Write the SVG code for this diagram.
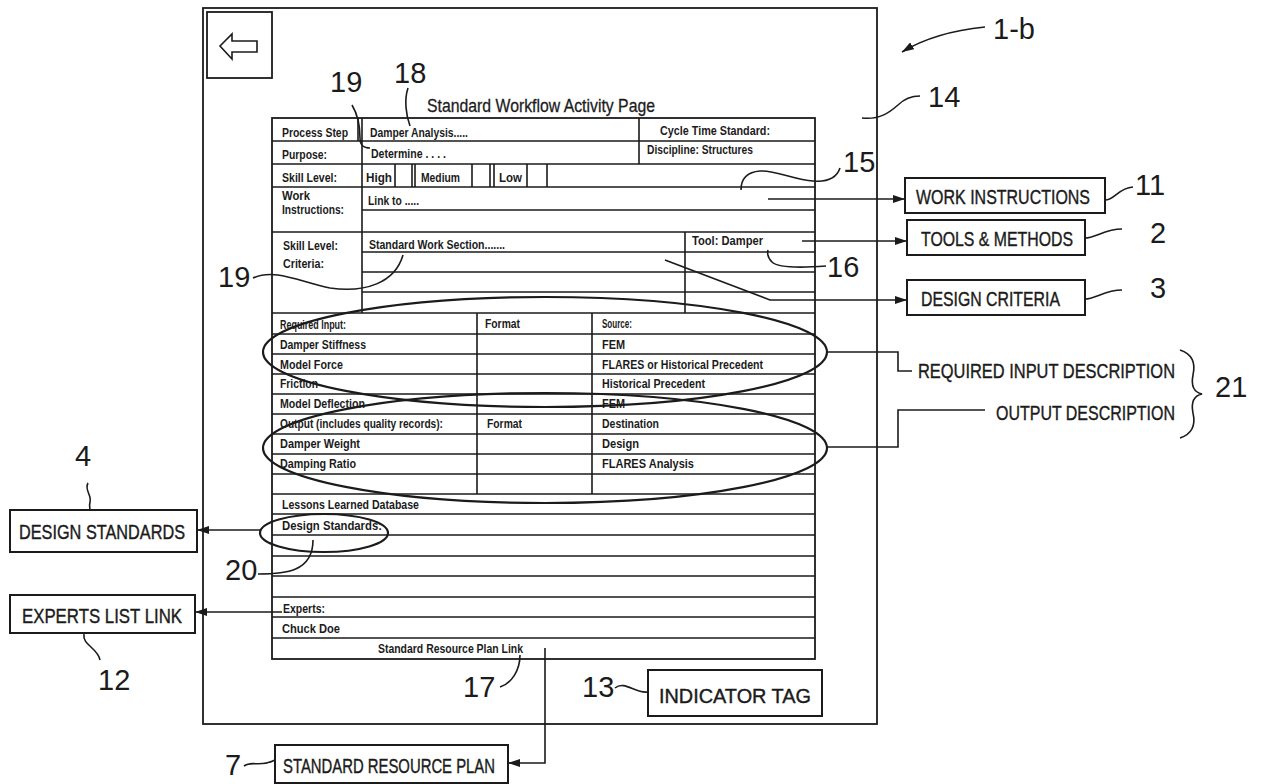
<svg xmlns="http://www.w3.org/2000/svg" width="1273" height="784" viewBox="0 0 1273 784">
<style>
.ln{stroke:#1b1b1b;stroke-width:1.6;fill:none}
.th{stroke:#1b1b1b;stroke-width:1.8;fill:none}
.el{stroke:#1b1b1b;stroke-width:2.2;fill:none}
.box{stroke:#1b1b1b;stroke-width:2;fill:#fff}
text{font-family:"Liberation Sans",Arial,sans-serif;fill:#1b1b1b}
.t{font-size:13px;font-weight:bold}
.ttl{font-size:19px;stroke:#1b1b1b;stroke-width:0.3}
.lbl{font-size:21px;stroke:#1b1b1b;stroke-width:0.4}
.num{font-size:29px}
</style>
<defs>
<marker id="ah" viewBox="0 0 12 8" refX="12" refY="4" markerWidth="12" markerHeight="8" markerUnits="userSpaceOnUse" orient="auto">
<path d="M0,0 L12,4 L0,8 Z" fill="#1b1b1b"/>
</marker>
</defs>
<rect width="1273" height="784" fill="#fff"/>

<g id="frame">
<rect class="th" x="203" y="8" width="674" height="716"/>
</g>

<g id="back-button">
<rect class="th" x="207" y="12" width="65" height="66"/>
<path class="ln" d="M220,46 L232,34 L232,41 L257,41 L257,52 L232,52 L232,59 Z"/>
</g>

<g id="title">
<text class="ttl" x="427" y="112" textLength="228" lengthAdjust="spacingAndGlyphs">Standard Workflow Activity Page</text>
</g>

<g id="activity-table">
<rect class="th" x="272" y="118" width="543" height="541"/>
<path class="ln" d="M272,141H815 M272,164H815 M272,187H815 M362,210H815 M272,232H815 M362,252H815 M362,272H815 M362,292H815 M272,313H815"/>
<path class="ln" d="M272,334H815 M272,354H815 M272,374H815 M272,394H815 M272,414H815 M272,434H815 M272,454H815 M272,474H815 M272,494H815 M272,514H815 M272,535H815 M272,556H815 M272,576H815 M272,597H815 M272,617H815 M272,638H815"/>
<path class="ln" d="M362,118V313 M358,118V141 M639,118V164 M395,164V187 M412,164V187 M415,164V187 M472,164V187 M490,164V187 M494,164V187 M527,164V187 M547,164V187 M685,232V313 M477,313V494 M592,313V494"/>
<text class="t" x="282" y="137" textLength="66" lengthAdjust="spacingAndGlyphs">Process Step</text>
<text class="t" x="370" y="137" textLength="98" lengthAdjust="spacingAndGlyphs">Damper Analysis.....</text>
<text class="t" x="660" y="135" textLength="110" lengthAdjust="spacingAndGlyphs">Cycle Time Standard:</text>
<text class="t" x="282" y="159" textLength="45" lengthAdjust="spacingAndGlyphs">Purpose:</text>
<text class="t" x="371" y="158" textLength="75" lengthAdjust="spacingAndGlyphs">Determine . . . .</text>
<text class="t" x="647" y="154" textLength="106" lengthAdjust="spacingAndGlyphs">Discipline: Structures</text>
<text class="t" x="282" y="182" textLength="55" lengthAdjust="spacingAndGlyphs">Skill Level:</text>
<text class="t" x="366" y="182" textLength="26" lengthAdjust="spacingAndGlyphs">High</text>
<text class="t" x="421" y="182" textLength="39" lengthAdjust="spacingAndGlyphs">Medium</text>
<text class="t" x="499" y="182" textLength="23" lengthAdjust="spacingAndGlyphs">Low</text>
<text class="t" x="282" y="200" textLength="28" lengthAdjust="spacingAndGlyphs">Work</text>
<text class="t" x="282" y="214" textLength="62" lengthAdjust="spacingAndGlyphs">Instructions:</text>
<text class="t" x="368" y="205" textLength="51" lengthAdjust="spacingAndGlyphs">Link to .....</text>
<text class="t" x="283" y="250" textLength="55" lengthAdjust="spacingAndGlyphs">Skill Level:</text>
<text class="t" x="283" y="268" textLength="41" lengthAdjust="spacingAndGlyphs">Criteria:</text>
<text class="t" x="369" y="249" textLength="136" lengthAdjust="spacingAndGlyphs">Standard Work Section.......</text>
<text class="t" x="692" y="245" textLength="71" lengthAdjust="spacingAndGlyphs">Tool: Damper</text>
<text class="t" x="280" y="329" textLength="66" lengthAdjust="spacingAndGlyphs">Required Input:</text>
<text class="t" x="485" y="328" textLength="35" lengthAdjust="spacingAndGlyphs">Format</text>
<text class="t" x="602" y="328" textLength="30" lengthAdjust="spacingAndGlyphs">Source:</text>
<text class="t" x="280" y="349" textLength="86" lengthAdjust="spacingAndGlyphs">Damper Stiffness</text>
<text class="t" x="602" y="349" textLength="23" lengthAdjust="spacingAndGlyphs">FEM</text>
<text class="t" x="280" y="369" textLength="63" lengthAdjust="spacingAndGlyphs">Model Force</text>
<text class="t" x="602" y="369" textLength="161" lengthAdjust="spacingAndGlyphs">FLARES or Historical Precedent</text>
<text class="t" x="280" y="388" textLength="38" lengthAdjust="spacingAndGlyphs">Friction</text>
<text class="t" x="602" y="388" textLength="103" lengthAdjust="spacingAndGlyphs">Historical Precedent</text>
<text class="t" x="280" y="408" textLength="85" lengthAdjust="spacingAndGlyphs">Model Deflection</text>
<text class="t" x="602" y="408" textLength="23" lengthAdjust="spacingAndGlyphs">FEM</text>
<text class="t" x="280" y="428" textLength="163" lengthAdjust="spacingAndGlyphs">Output (includes quality records):</text>
<text class="t" x="487" y="428" textLength="35" lengthAdjust="spacingAndGlyphs">Format</text>
<text class="t" x="602" y="428" textLength="57" lengthAdjust="spacingAndGlyphs">Destination</text>
<text class="t" x="280" y="448" textLength="80" lengthAdjust="spacingAndGlyphs">Damper Weight</text>
<text class="t" x="602" y="448" textLength="37" lengthAdjust="spacingAndGlyphs">Design</text>
<text class="t" x="280" y="468" textLength="76" lengthAdjust="spacingAndGlyphs">Damping Ratio</text>
<text class="t" x="602" y="468" textLength="92" lengthAdjust="spacingAndGlyphs">FLARES Analysis</text>
<text class="t" x="282" y="509" textLength="137" lengthAdjust="spacingAndGlyphs">Lessons Learned Database</text>
<text class="t" x="282" y="530" textLength="100" lengthAdjust="spacingAndGlyphs">Design Standards:</text>
<text class="t" x="283" y="613" textLength="42" lengthAdjust="spacingAndGlyphs">Experts:</text>
<text class="t" x="282" y="633" textLength="58" lengthAdjust="spacingAndGlyphs">Chuck Doe</text>
<text class="t" x="378" y="653" textLength="145" lengthAdjust="spacingAndGlyphs">Standard Resource Plan Link</text>
<ellipse class="el" cx="545" cy="352" rx="282" ry="55"/>
<ellipse class="el" cx="545" cy="448" rx="282" ry="55"/>
<ellipse class="el" cx="324" cy="533" rx="64" ry="19"/>
</g>

<g id="work-instructions">
<rect class="box" x="905" y="178" width="200" height="35"/>
<text class="lbl" transform="translate(916,204) scale(0.76,1)" x="0" y="0" textLength="229" lengthAdjust="spacingAndGlyphs">WORK INSTRUCTIONS</text>
</g>
<g id="tools-methods">
<rect class="box" x="907" y="220" width="178" height="35"/>
<text class="lbl" x="921" y="246" textLength="152" lengthAdjust="spacingAndGlyphs">TOOLS &amp; METHODS</text>
</g>
<g id="design-criteria">
<rect class="box" x="907" y="280" width="178" height="35"/>
<text class="lbl" x="921" y="306" textLength="139" lengthAdjust="spacingAndGlyphs">DESIGN CRITERIA</text>
</g>
<g id="required-input-description">
<text class="lbl" transform="translate(918,378) scale(0.78,1)" x="0" y="0" textLength="329.5" lengthAdjust="spacingAndGlyphs">REQUIRED INPUT DESCRIPTION</text>
</g>
<g id="output-description">
<text class="lbl" x="996" y="420" textLength="179" lengthAdjust="spacingAndGlyphs">OUTPUT DESCRIPTION</text>
</g>
<g id="design-standards">
<rect class="box" x="10" y="510" width="187" height="42"/>
<text class="lbl" x="19" y="539" textLength="166" lengthAdjust="spacingAndGlyphs">DESIGN STANDARDS</text>
</g>
<g id="experts-list-link">
<rect class="box" x="10" y="595" width="185" height="38"/>
<text class="lbl" x="22" y="623" textLength="160" lengthAdjust="spacingAndGlyphs">EXPERTS LIST LINK</text>
</g>
<g id="indicator-tag">
<rect class="box" x="648" y="670" width="174" height="46"/>
<text class="lbl" x="659" y="703" textLength="152" lengthAdjust="spacingAndGlyphs">INDICATOR TAG</text>
</g>
<g id="standard-resource-plan">
<rect class="box" x="275" y="745" width="233" height="38"/>
<text class="lbl" x="283" y="773" textLength="212" lengthAdjust="spacingAndGlyphs">STANDARD RESOURCE PLAN</text>
</g>

<g id="connectors">
<path class="ln" d="M768,199H905" marker-end="url(#ah)"/>
<path class="ln" d="M802,241H907" marker-end="url(#ah)"/>
<path class="ln" d="M665,260L770,300H907" marker-end="url(#ah)"/>
<path class="ln" d="M826,352H898V371H912"/>
<path class="ln" d="M826,447H898V410H985"/>
<path class="ln" d="M260,530H197" marker-end="url(#ah)"/>
<path class="ln" d="M282,612H195" marker-end="url(#ah)"/>
<path class="ln" d="M545,648V763H508" marker-end="url(#ah)"/>
</g>

<g id="reference-numerals">
<path class="ln" d="M985,27C955,30 925,38 902,52" marker-end="url(#ah)"/>
<path class="ln" d="M862,118C880,120 890,112 898,105C905,98 912,96 920,96"/>
<path class="ln" d="M840,168C836,180 825,182 813,181C795,180 775,170 760,171C748,172 741,178 741,190"/>
<path class="ln" d="M1105,200C1115,200 1118,188 1133,187"/>
<path class="ln" d="M1085,238C1095,238 1105,229 1122,229"/>
<path class="ln" d="M1085,299C1095,299 1105,290 1122,290"/>
<path class="ln" d="M826,266C800,268 778,268 772,262C768,258 767,254 768,250"/>
<path class="ln" d="M253,278C275,268 300,282 330,288C365,293 395,283 403,255"/>
<path class="ln" d="M352,105C358,115 360,128 360,138C360,146 364,148 370,148"/>
<path class="ln" d="M408,88C404,100 406,115 410,126"/>
<path class="ln" d="M88,483C84,490 92,495 90,502C89,506 90,508 90,510"/>
<path class="ln" d="M258,574C285,574 313,572 313,540"/>
<path class="ln" d="M84,634C82,645 98,648 100,660"/>
<path class="ln" d="M500,687C512,683 520,670 520,655"/>
<path class="ln" d="M615,688C625,680 635,694 648,692"/>
<path class="ln" d="M244,766C252,760 260,768 275,760"/>
<path class="ln" d="M1180,350C1192,354 1196,362 1193,375C1191,385 1193,392 1202,394C1193,396 1191,403 1193,413C1196,426 1192,434 1180,438"/>
<text class="num" x="993" y="39">1-b</text>
<text class="num" x="928" y="107">14</text>
<text class="num" x="843" y="172">15</text>
<text class="num" x="1135" y="195">11</text>
<text class="num" x="1150" y="243">2</text>
<text class="num" x="827" y="277">16</text>
<text class="num" x="1150" y="298">3</text>
<text class="num" x="330" y="92">19</text>
<text class="num" x="394" y="83">18</text>
<text class="num" x="218" y="287">19</text>
<text class="num" x="1215" y="397">21</text>
<text class="num" x="75" y="466">4</text>
<text class="num" x="225" y="580">20</text>
<text class="num" x="98" y="690">12</text>
<text class="num" x="463" y="697">17</text>
<text class="num" x="582" y="697">13</text>
<text class="num" x="225" y="775">7</text>
</g>
</svg>
